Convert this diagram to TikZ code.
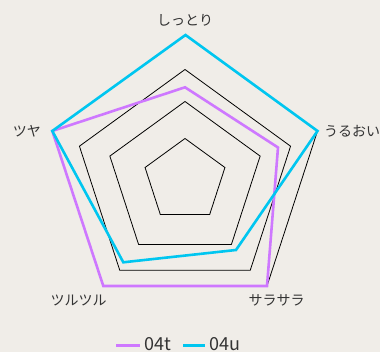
\documentclass[tikz,border=0pt]{standalone}
\usepackage{fontspec}
\setmainfont{Noto Sans CJK JP}
\definecolor{bgc}{RGB}{240,237,232}
\definecolor{pinkc}{RGB}{206,120,255}
\definecolor{bluec}{RGB}{0,198,240}
\definecolor{txtc}{RGB}{51,51,51}
\begin{document}
\begin{tikzpicture}[x=1pt,y=-1pt,
  gridline/.style={draw=black,line width=0.8pt,line join=miter},
  series/.style={line width=2.6pt,line join=miter},
  lbl/.style={text=txtc,font=\fontsize{14}{14}\selectfont,inner sep=0pt},
  leg/.style={text=txtc,font=\fontsize{18}{18}\selectfont,inner sep=0pt,anchor=base west}]
\fill[bgc] (0,0) rectangle (380,352);
\useasboundingbox (0,0) rectangle (380,352);
% grid rings (center 185,180.5)
\coordinate (c) at (185,180.5);
\foreach \r in {42,79,111}{
  \draw[gridline] (c)+(-90:\r) -- +(-18:\r) -- +(54:\r) -- +(126:\r) -- +(198:\r) -- cycle;
}
% outer ring
\coordinate (oT) at (185.5,35);
\coordinate (oR) at (317.5,131);
\coordinate (oBR) at (267,286);
\coordinate (oBL) at (103.3,286);
\coordinate (oL) at (52.3,131);
\draw[gridline] (oT) -- (oR) -- (oBR) -- (oBL) -- (oL) -- cycle;
% series 04t
\coordinate (pT) at (185,87.3);
\coordinate (pR) at (278,147.5);
\draw[series,pinkc] (pT) -- (pR) -- (oBR) -- (oBL) -- (oL) -- cycle;
% series 04u
\coordinate (bBR) at (236,250);
\coordinate (bBL) at (123.3,262.3);
\draw[series,bluec] (oT) -- (oR) -- (bBR) -- (bBL) -- (oL) -- cycle;
% labels
\node[lbl] (l1) at (185,20) {しっとり};
\node[lbl,anchor=west] (l2) at (324,131) {うるおい};
\node[lbl] (l3) at (276.5,300) {サラサラ};
\node[lbl] (l4) at (78.5,300) {ツルツル};
\node[lbl,anchor=east] (l5) at (41,131) {ツヤ};
% legend
\coordinate (k1a) at (116,345.3);
\coordinate (k1b) at (140,345.3);
\draw[series,pinkc,line cap=butt] (k1a) -- (k1b);
\node[leg] (t1) at (144.5,351) {04t};
\coordinate (k2a) at (183,345.3);
\coordinate (k2b) at (205,345.3);
\draw[series,bluec,line cap=butt] (k2a) -- (k2b);
\node[leg] (t2) at (209,351) {04u};
\end{tikzpicture}
\end{document}
